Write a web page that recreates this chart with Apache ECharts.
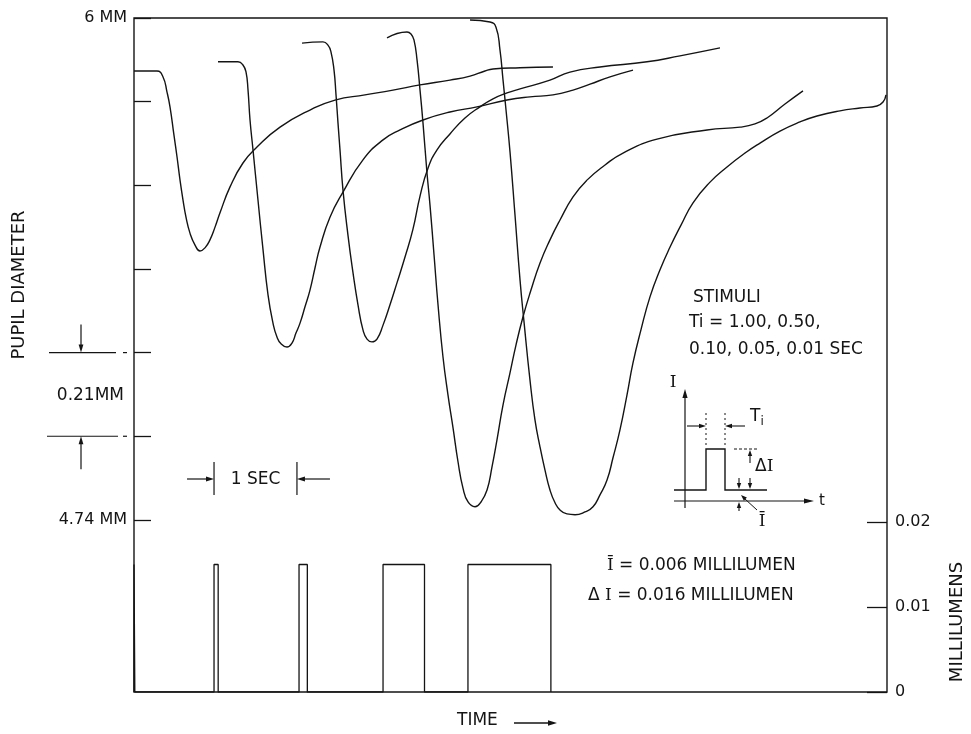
<!DOCTYPE html>
<html>
<head>
<meta charset="utf-8">
<script src="https://cdn.jsdelivr.net/npm/echarts@6/dist/echarts.min.js"></script>
<style>html,body{margin:0;padding:0;background:#fff}#c{width:971px;height:734px}</style>
</head>
<body>
<div id="c"></div>
<script>
// ---- data (time in seconds, pupil diameter in mm, light in millilumens) ----
const respA_t  = [0, 0.277, 0.350, 0.398, 0.434, 0.482, 0.519, 0.555, 0.591, 0.627, 0.675, 0.736, 0.796, 0.856, 0.916, 0.977, 1.037, 1.158, 1.314, 1.483, 1.761, 2.122, 2.424, 2.785, 3.123, 3.449, 3.810, 4.052, 4.232, 4.329, 4.655, 5.052];
const respA_mm = [5.867, 5.867, 5.852, 5.814, 5.777, 5.706, 5.651, 5.593, 5.543, 5.500, 5.460, 5.430, 5.415, 5.423, 5.443, 5.475, 5.511, 5.576, 5.636, 5.676, 5.726, 5.769, 5.794, 5.807, 5.819, 5.832, 5.844, 5.854, 5.867, 5.872, 5.875, 5.877];

const respB_t  = [1.013, 1.254, 1.314, 1.351, 1.375, 1.399, 1.435, 1.495, 1.556, 1.616, 1.676, 1.724, 1.773, 1.845, 1.905, 1.953, 2.002, 2.062, 2.122, 2.183, 2.243, 2.363, 2.520, 2.761, 3.003, 3.208, 3.485, 3.810, 4.136, 4.498, 4.775, 5.052, 5.294, 5.499, 5.740, 6.017];
const respB_mm = [5.890, 5.890, 5.882, 5.864, 5.819, 5.744, 5.669, 5.543, 5.418, 5.305, 5.234, 5.199, 5.182, 5.174, 5.184, 5.209, 5.234, 5.275, 5.317, 5.373, 5.425, 5.500, 5.563, 5.644, 5.694, 5.719, 5.744, 5.764, 5.777, 5.794, 5.802, 5.807, 5.819, 5.834, 5.852, 5.869];

const respC_t  = [2.026, 2.279, 2.339, 2.375, 2.412, 2.436, 2.460, 2.484, 2.520, 2.580, 2.641, 2.701, 2.761, 2.810, 2.870, 2.930, 3.003, 3.087, 3.171, 3.268, 3.364, 3.449, 3.545, 3.654, 3.810, 3.991, 4.172, 4.329, 4.498, 4.655, 5.016, 5.257, 5.619, 6.186, 6.584, 7.066];
const respC_mm = [5.937, 5.940, 5.932, 5.915, 5.869, 5.807, 5.736, 5.669, 5.568, 5.455, 5.360, 5.280, 5.217, 5.194, 5.187, 5.194, 5.229, 5.280, 5.335, 5.400, 5.470, 5.553, 5.623, 5.669, 5.709, 5.749, 5.777, 5.797, 5.812, 5.822, 5.844, 5.864, 5.877, 5.890, 5.905, 5.925];

const respD_t  = [3.051, 3.292, 3.340, 3.376, 3.413, 3.449, 3.485, 3.533, 3.569, 3.618, 3.666, 3.726, 3.786, 3.847, 3.907, 3.967, 4.028, 4.112, 4.184, 4.257, 4.317, 4.377, 4.450, 4.534, 4.606, 4.691, 4.787, 4.896, 5.016, 5.137, 5.294, 5.462, 5.680, 5.897, 6.307, 6.910, 7.308, 7.488, 7.633, 7.850, 8.067];
const respD_mm = [5.950, 5.965, 5.960, 5.945, 5.895, 5.819, 5.736, 5.611, 5.531, 5.405, 5.280, 5.149, 5.054, 4.971, 4.886, 4.820, 4.785, 4.773, 4.785, 4.815, 4.873, 4.941, 5.029, 5.109, 5.179, 5.250, 5.317, 5.385, 5.443, 5.493, 5.551, 5.593, 5.631, 5.661, 5.696, 5.719, 5.726, 5.734, 5.749, 5.784, 5.817];

const respE_t  = [4.052, 4.293, 4.365, 4.413, 4.450, 4.486, 4.534, 4.594, 4.655, 4.703, 4.775, 4.835, 4.896, 4.956, 5.016, 5.077, 5.137, 5.221, 5.318, 5.438, 5.535, 5.619, 5.704, 5.776, 5.860, 5.945, 6.017, 6.113, 6.222, 6.343, 6.464, 6.596, 6.741, 6.946, 7.151, 7.368, 7.549, 7.790, 8.031, 8.236, 8.513, 8.754, 8.959, 9.032, 9.068];
const respE_mm = [5.995, 5.990, 5.977, 5.920, 5.844, 5.769, 5.664, 5.506, 5.342, 5.237, 5.091, 4.991, 4.923, 4.865, 4.815, 4.783, 4.765, 4.755, 4.753, 4.760, 4.773, 4.803, 4.840, 4.896, 4.966, 5.054, 5.134, 5.217, 5.300, 5.368, 5.425, 5.480, 5.536, 5.588, 5.626, 5.661, 5.686, 5.716, 5.739, 5.754, 5.767, 5.774, 5.779, 5.789, 5.807];

const stimOnset     = [0.0, 0.965, 1.99, 3.003, 4.027];
const stimDuration  = [0.01, 0.05, 0.10, 0.50, 1.00];
const stimAmplitude = 0.015;

const diameterTicks  = [4.74, 4.95, 5.16, 5.37, 5.58, 5.79, 6.00];
const diameterLabels = [4.74, 6.00];
const lumenTicks     = [0, 0.01, 0.02];

// ---- chart ----
const INK = '#141414';
const FONT = 'DejaVu Sans';
const chart = echarts.init(document.getElementById('c'), null, {renderer: 'canvas'});

function pairs(ts, vs) { return ts.map((t, i) => [t, vs[i]]); }
function stimulusTrace() {
  const pts = [[0, 0]];
  stimOnset.forEach((o, i) => {
    const e = o + stimDuration[i];
    pts.push([o, 0], [o, stimAmplitude], [e, stimAmplitude], [e, 0]);
  });
  return pts;
}
function pupilSeries(name, ts, vs) {
  return {
    name, type: 'line', xAxisIndex: 0, yAxisIndex: 0, data: pairs(ts, vs),
    showSymbol: false, smooth: 0.5, silent: true,
    lineStyle: {color: INK, width: 1.4}
  };
}

const option = {
  animation: false,
  backgroundColor: '#fff',
  grid: {left: 134, right: 84, top: 18, bottom: 42, show: true, borderColor: INK, borderWidth: 1.4,
         backgroundColor: 'transparent', outerBoundsMode: 'none'},
  xAxis: {type: 'value', min: 0, max: 9.08, axisLine: {show: false}, axisTick: {show: false},
          axisLabel: {show: false}, splitLine: {show: false}},
  yAxis: [
    {type: 'value', min: 4.308, max: 6.0, position: 'left', axisLine: {show: false}, splitLine: {show: false},
     axisTick: {show: true, inside: true, length: 17, customValues: diameterTicks, lineStyle: {color: INK, width: 1.3}},
     axisLabel: {customValues: diameterLabels, margin: 7, color: INK, fontFamily: FONT, fontSize: 16,
                 formatter: v => (Math.abs(v - 6) < 1e-6 ? '6 MM' : '4.74 MM')}},
    {type: 'value', min: 0, max: 0.0793, position: 'right', axisLine: {show: false}, splitLine: {show: false},
     axisTick: {show: true, inside: true, length: 20, customValues: lumenTicks, lineStyle: {color: INK, width: 1.3}},
     axisLabel: {customValues: lumenTicks, margin: 8, color: INK, fontFamily: FONT, fontSize: 16,
                 formatter: v => (v === 0 ? '0' : v.toFixed(2))}}
  ],
  series: [
    pupilSeries('Ti = 0.01 s', respA_t, respA_mm),
    pupilSeries('Ti = 0.05 s', respB_t, respB_mm),
    pupilSeries('Ti = 0.10 s', respC_t, respC_mm),
    pupilSeries('Ti = 0.50 s', respD_t, respD_mm),
    pupilSeries('Ti = 1.00 s', respE_t, respE_mm),
    {name: 'Stimulus', type: 'line', xAxisIndex: 0, yAxisIndex: 1, data: stimulusTrace(),
     showSymbol: false, smooth: false, silent: true, lineStyle: {color: INK, width: 1.3}}
  ]
};
chart.setOption(option);

// ---- annotations ----
const X = t => chart.convertToPixel({xAxisIndex: 0}, t);
const YL = v => chart.convertToPixel({yAxisIndex: 0}, v);

function seg(x1, y1, x2, y2, w, dash) {
  return {type: 'line', silent: true, shape: {x1, y1, x2, y2},
          style: {stroke: INK, lineWidth: w || 1.2, lineDash: dash || null}};
}
function head(x, y, ang, L, W) {
  L = L || 8; W = W || 2.6;
  const c = Math.cos(ang), s = Math.sin(ang);
  const bx = x - L * c, by = y - L * s;
  return {type: 'polygon', silent: true,
          shape: {points: [[x, y], [bx - W * s, by + W * c], [bx + W * s, by - W * c]]},
          style: {fill: INK}};
}
function txt(x, y, text, opt) {
  opt = opt || {};
  return {type: 'text', silent: true, x, y, rotation: opt.rotation || 0,
          style: Object.assign({text, fill: INK, fontFamily: FONT, fontSize: opt.size || 16,
                                align: opt.align || 'left', verticalAlign: 'middle'}, opt.style || {})};
}

const g = [];
// axis titles
g.push(txt(19, 285, 'PUPIL DIAMETER', {rotation: Math.PI / 2, align: 'center', size: 18}));
g.push(txt(957, 622, 'MILLILUMENS', {rotation: Math.PI / 2, align: 'center', size: 18}));
g.push(txt(457, 721, 'TIME', {size: 17}));
g.push(seg(514, 723, 550, 723, 1.3));
g.push(head(557, 723, 0, 9, 2.8));

// 0.21 MM dimension
const yA = YL(5.16), yB = YL(4.95);
g.push(seg(49, yA, 116, yA, 1.2));
g.push(seg(123, yA, 127, yA, 1.2));
g.push(seg(47, yB, 118, yB, 1.2));
g.push(seg(123, yB, 127, yB, 1.2));
g.push(seg(81, yA - 28, 81, yA - 6, 1.2));
g.push(head(81, yA, Math.PI / 2, 8, 2.4));
g.push(seg(81, yB + 33, 81, yB + 6, 1.2));
g.push(head(81, yB, -Math.PI / 2, 8, 2.4));
g.push(txt(124, (yA + yB) / 2 + 1, '0.21MM', {align: 'right', size: 17}));

// 1 SEC dimension
const xS = X(stimOnset[1]), xE = X(stimOnset[1] + 1.0);
g.push(seg(xS, 462, xS, 495, 1.2));
g.push(seg(xE, 462, xE, 495, 1.2));
g.push(seg(xS - 27, 479, xS - 6, 479, 1.2));
g.push(head(xS, 479, 0, 8, 2.4));
g.push(seg(xE + 33, 479, xE + 6, 479, 1.2));
g.push(head(xE, 479, Math.PI, 8, 2.4));
g.push(txt((xS + xE) / 2, 480, '1 SEC', {align: 'center', size: 17}));

// stimuli text
g.push(txt(693, 298, 'STIMULI', {size: 17}));
g.push(txt(689, 323, 'Ti = 1.00, 0.50,', {size: 17}));
g.push(txt(689, 350, '0.10, 0.05, 0.01 SEC', {size: 17}));

// inset pulse diagram
g.push(seg(685, 508, 685, 396, 1.2));
g.push(head(685, 389, -Math.PI / 2, 9, 2.6));
g.push(txt(673, 383, 'I', {align: 'center', size: 17, style: {fontFamily: 'DejaVu Serif'}}));
g.push(seg(674, 501, 806, 501, 1.2));
g.push(head(814, 501, 0, 10, 2.6));
g.push(txt(822, 501, 't', {align: 'center', size: 15}));
g.push({type: 'polyline', silent: true,
        shape: {points: [[674, 490], [706, 490], [706, 449], [725, 449], [725, 490], [767, 490]]},
        style: {stroke: INK, lineWidth: 1.4, fill: null}});
g.push(seg(706, 413, 706, 446, 1, [2, 3]));
g.push(seg(725, 413, 725, 446, 1, [2, 3]));
g.push(seg(687, 426, 700, 426, 1.1));
g.push(head(706, 426, 0, 7, 2.2));
g.push(seg(745, 426, 731, 426, 1.1));
g.push(head(725, 426, Math.PI, 7, 2.2));
g.push(txt(750, 417, '{a|T}{b|i}', {size: 17, style: {rich: {a: {fontFamily: FONT, fontSize: 17, fill: INK}, b: {fontFamily: FONT, fontSize: 12, fill: INK, padding: [10, 0, 0, 0]}}}}));
g.push(seg(734, 449, 758, 449, 1, [3, 2]));
g.push(seg(750, 463, 750, 455, 1.1));
g.push(head(750, 450, -Math.PI / 2, 6, 2.2));
g.push(seg(750, 478, 750, 484, 1.1));
g.push(head(750, 489, Math.PI / 2, 6, 2.2));
g.push(txt(755, 467, '{d|Δ}{s|I}', {size: 17, style: {rich: {d: {fontFamily: FONT, fontSize: 17, fill: INK}, s: {fontFamily: 'DejaVu Serif', fontSize: 17, fill: INK}}}}));
g.push(seg(739, 478, 739, 484, 1.1));
g.push(head(739, 489, Math.PI / 2, 6, 2.2));
g.push(seg(739, 511, 739, 507, 1.1));
g.push(head(739, 502, -Math.PI / 2, 6, 2.2));
g.push(seg(757, 510, 745, 499, 1.0));
g.push(head(741, 495, Math.atan2(-15, -16), 6, 2.2));
g.push(txt(762, 522, 'Ī', {align: 'center', size: 17, style: {fontFamily: 'DejaVu Serif'}}));

// notes
g.push(txt(607, 566, '{s|Ī} = 0.006 MILLILUMEN', {size: 17, style: {rich: {s: {fontFamily: 'DejaVu Serif', fontSize: 17, fill: INK}}}}));
g.push(txt(588, 596, '{d|Δ} {s|I} = 0.016 MILLILUMEN', {size: 17, style: {rich: {d: {fontFamily: FONT, fontSize: 17, fill: INK}, s: {fontFamily: 'DejaVu Serif', fontSize: 17, fill: INK}}}}));

chart.setOption({graphic: {elements: g}});
</script>
</body>
</html>
